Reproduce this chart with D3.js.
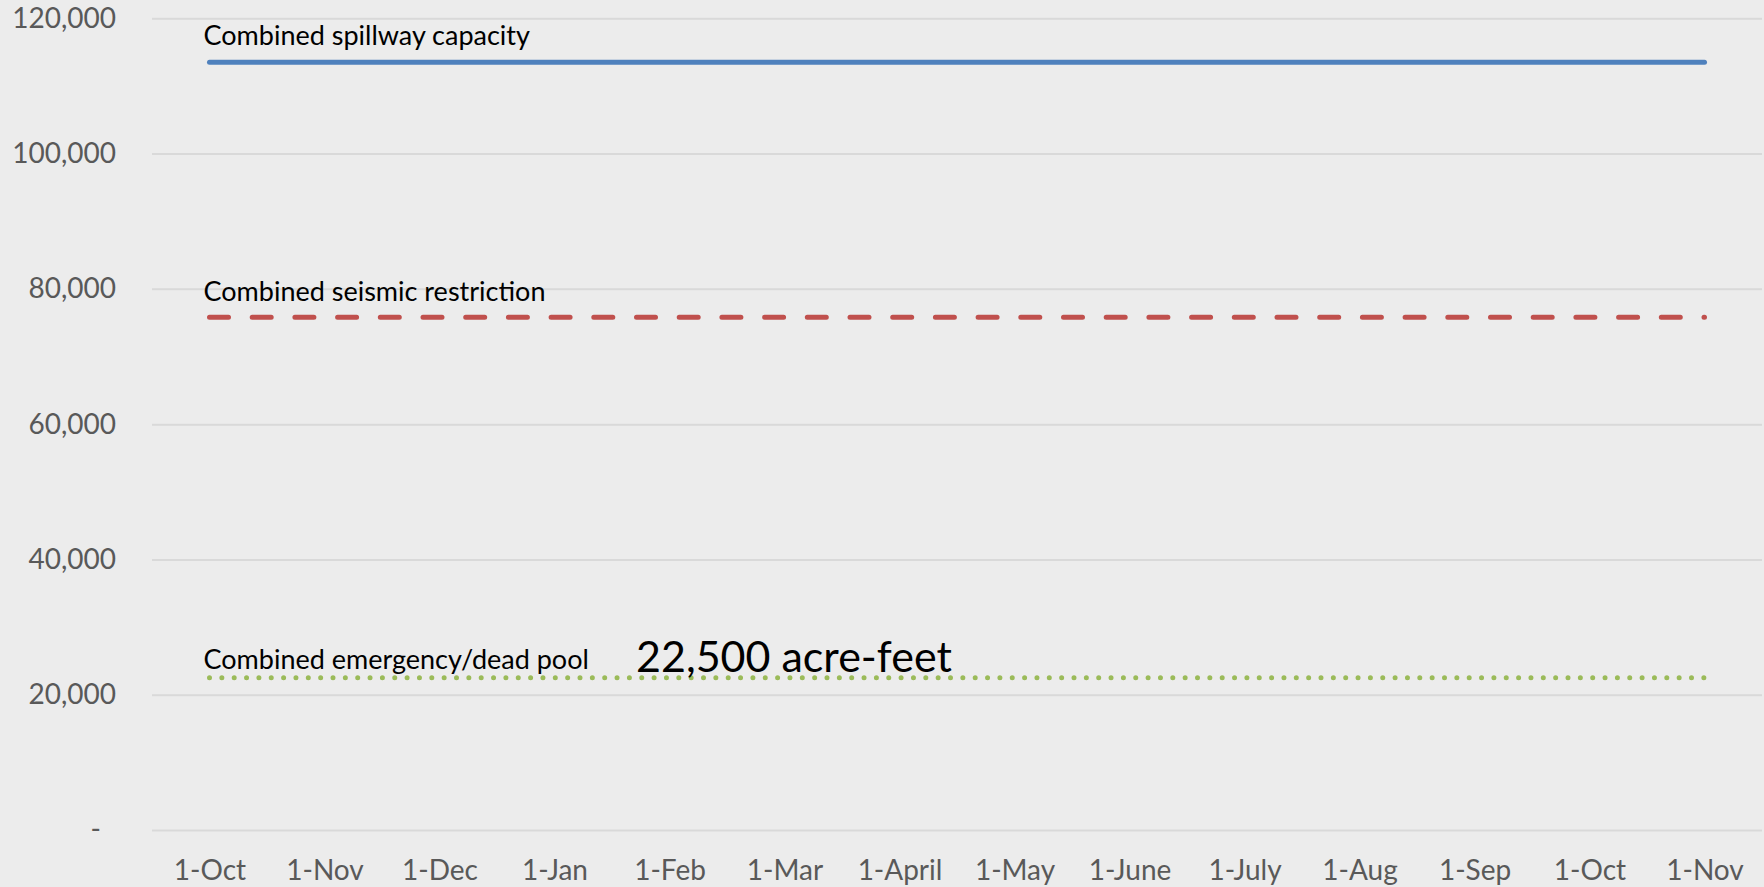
<!DOCTYPE html>
<html>
<head>
<meta charset="utf-8" />
<title>Combined reservoir storage limits</title>
<script src="https://d3js.org/d3.v7.min.js"></script>
<style>
  body { margin: 0; background: #ececec; }
  text { font-family: Lato, "Open Sans", sans-serif; }
</style>
</head>
<body>
<svg id="viz"></svg>

<script>

//data
var months = ["1-Oct", "1-Nov", "1-Dec", "1-Jan", "1-Feb", "1-Mar", "1-April",
              "1-May", "1-June", "1-July", "1-Aug", "1-Sep", "1-Oct", "1-Nov"];

var spillway = [113500, 113500, 113500, 113500, 113500, 113500, 113500,
                113500, 113500, 113500, 113500, 113500, 113500, 113500];

var seismic = [75800, 75800, 75800, 75800, 75800, 75800, 75800,
               75800, 75800, 75800, 75800, 75800, 75800, 75800];

var deadPool = [22500, 22500, 22500, 22500, 22500, 22500, 22500,
                22500, 22500, 22500, 22500, 22500, 22500, 22500];

var yTicks = [0, 20000, 40000, 60000, 80000, 100000, 120000];

// careful: "top" is taken by window.top
var width = 1764,
    height = 887,
    plotLeft = 152,
    plotRight = 1762,
    plotTop = 18.3,
    plotBottom = 830;

var svg = d3.select("#viz")
  .attr("width", width)
  .attr("height", height);

svg.append("rect")
  .attr("width", width)
  .attr("height", height)
  .attr("fill", "#ececec");

var xScale = d3.scalePoint()
  .domain(d3.range(months.length))
  .range([plotLeft, plotRight])
  .padding(0.5);

var yScale = d3.scaleLinear()
  .domain([0, 120000])
  .range([plotBottom, plotTop]);

//y axis + gridlines
var yAxis = svg.append("g")
  .attr("transform", "translate(" + plotLeft + ",0)")
  .call(d3.axisLeft(yScale)
    .tickValues(yTicks)
    .tickSize(-(plotRight - plotLeft))
    .tickPadding(36)
    .tickFormat(function(d) { return d === 0 ? "-" : d3.format(",")(d); }));

yAxis.select(".domain").remove();
yAxis.selectAll("line")
  .attr("stroke", "#d9d9d9")
  .attr("stroke-width", 2);
yAxis.selectAll("text")
  .attr("fill", "#595959")
  .style("font-size", "28px")
  .attr("dx", function(d) { return d === 0 ? -15 : 0; });

//x axis
var xAxis = svg.append("g")
  .attr("transform", "translate(0," + plotBottom + ")")
  .call(d3.axisBottom(xScale)
    .tickSize(0)
    .tickPadding(30)
    .tickFormat(function(i) { return months[i]; }));

xAxis.select(".domain").remove();
xAxis.selectAll("text")
  .attr("fill", "#595959")
  .style("font-size", "28px");

//lines
var line = function(values) {
  return d3.line()
    .x(function(d, i) { return xScale(i); })
    .y(function(d) { return yScale(d); })(values);
};

var series = [
  {name: "Combined spillway capacity", values: spillway, color: "#4f81bd", dash: null, lift: 17},
  {name: "Combined seismic restriction", values: seismic, color: "#c0504d", dash: "19,23.7", lift: 16},
  {name: "Combined emergency/dead pool", values: deadPool, color: "#9bbb59", dash: "0,12.35", lift: 9}
];

svg.selectAll("path.series")
  .data(series)
  .enter().append("path")
  .attr("class", "series")
  .attr("d", function(d) { return line(d.values); })
  .attr("fill", "none")
  .attr("stroke", function(d) { return d.color; })
  .attr("stroke-width", 5)
  .attr("stroke-linecap", "round")
  .attr("stroke-dasharray", function(d) { return d.dash; });

//labels
svg.selectAll("text.label")
  .data(series)
  .enter().append("text")
  .attr("class", "label")
  .attr("x", xScale(0) - 6)
  .attr("y", function(d) { return yScale(d.values[0]) - d.lift; })
  .attr("fill", "#000")
  .style("font-size", "27px")
  .text(function(d) { return d.name; });

svg.append("text")
  .attr("x", 636)
  .attr("y", yScale(deadPool[0]) - 6)
  .attr("fill", "#000")
  .style("font-size", "43px")
  .text(d3.format(",")(deadPool[0]) + " acre-feet");

</script>
</body>
</html>
